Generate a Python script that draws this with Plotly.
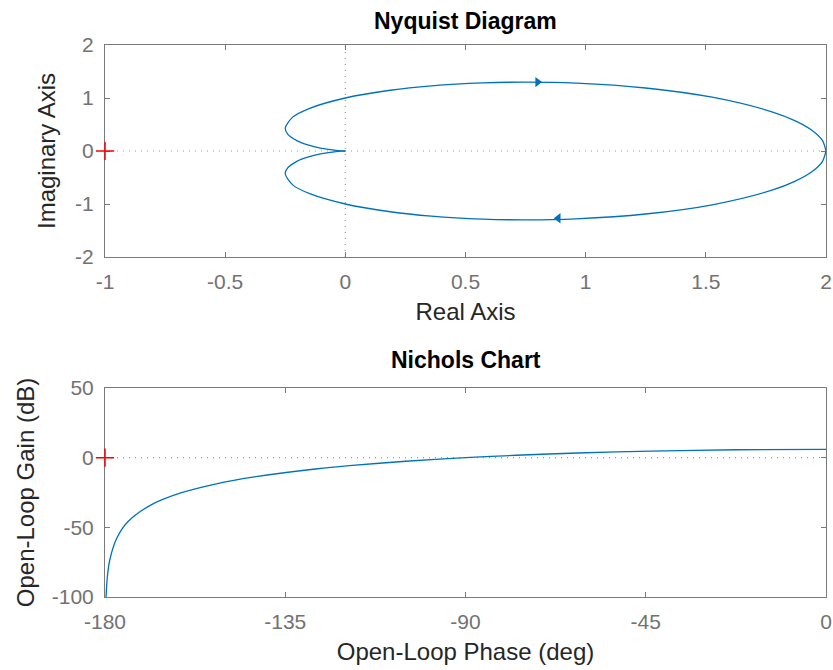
import plotly.graph_objects as go

# ---- Nyquist data ----
# lower branch: from (2,0) to origin
nyq_lower_re = [2.0, 1.985, 1.941, 1.870, 1.775, 1.532, 1.249, 0.96, 0.75, 0.571, 0.358, 0.187, 0.0,
                -0.148, -0.219, -0.25, -0.24, -0.20, -0.16, -0.104, -0.071, -0.038, -0.019, -0.002, 0.0]
nyq_lower_im = [0.0, -0.199, -0.392, -0.574, -0.740, -1.010, -1.189, -1.28, -1.299, -1.285, -1.229, -1.146, -1.0,
                -0.806, -0.639, -0.433, -0.32, -0.19, -0.12, -0.055, -0.030, -0.011, -0.004, -0.0005, 0.0]
# upper branch: from origin to (2,0)
nyq_upper_re = [0.0, -0.002, -0.019, -0.038, -0.071, -0.104, -0.16, -0.20, -0.24, -0.25, -0.219, -0.148,
                0.0, 0.187, 0.358, 0.571, 0.75, 0.96, 1.249, 1.532, 1.775, 1.870, 1.941, 1.985, 2.0]
nyq_upper_im = [0.0, 0.0005, 0.004, 0.011, 0.030, 0.055, 0.12, 0.19, 0.32, 0.433, 0.639, 0.806,
                1.0, 1.146, 1.229, 1.285, 1.299, 1.28, 1.189, 1.010, 0.740, 0.574, 0.392, 0.199, 0.0]
arrow_re = [0.80, 0.886]
arrow_im = [1.30, -1.27]
arrow_symbols = ["triangle-right", "triangle-left"]
critical_re, critical_im = [-1], [0]

# ---- Nichols data ----
nich_phase = [0.0, -22.6, -43.6, -61.9, -77.3, -90.0, -104.9, -119.0, -126.9, -143.1, -151.9,
              -161.1, -168.6, -174.3, -177.1, -178.85, -179.43, -179.74]
nich_gain = [6.02, 5.68, 4.73, 3.35, 1.72, 0.0, -2.57, -5.78, -7.96, -13.98, -18.59,
             -25.34, -34.07, -46.04, -58.07, -73.98, -86.0, -100.0]
nich_crit_phase, nich_crit_gain = [-180], [0]

nyq_xticks = [-1, -0.5, 0, 0.5, 1, 1.5, 2]
nyq_yticks = [-2, -1, 0, 1, 2]
nich_xticks = [-180, -135, -90, -45, 0]
nich_yticks = [-100, -50, 0, 50]

BLUE = "#0072BD"
AXC = "#7a7a7a"
FONT = "Liberation Sans, Arial, Helvetica, sans-serif"

fig = go.Figure()

fig.add_trace(go.Scatter(x=nyq_upper_re, y=nyq_upper_im, mode="lines",
                         line=dict(color=BLUE, width=1.3, shape="spline", smoothing=0.8),
                         xaxis="x", yaxis="y", hoverinfo="skip"))
fig.add_trace(go.Scatter(x=nyq_lower_re, y=nyq_lower_im, mode="lines",
                         line=dict(color=BLUE, width=1.3, shape="spline", smoothing=0.8),
                         xaxis="x", yaxis="y", hoverinfo="skip"))
fig.add_trace(go.Scatter(x=arrow_re, y=arrow_im, mode="markers",
                         marker=dict(symbol=arrow_symbols, size=9, color=BLUE),
                         xaxis="x", yaxis="y", hoverinfo="skip"))
fig.add_trace(go.Scatter(x=critical_re, y=critical_im, mode="markers",
                         marker=dict(symbol="cross-thin", size=13, line=dict(color="red", width=1.5)),
                         xaxis="x", yaxis="y", hoverinfo="skip", cliponaxis=False))

fig.add_trace(go.Scatter(x=nich_phase, y=nich_gain, mode="lines",
                         line=dict(color=BLUE, width=1.3, shape="spline", smoothing=0.8),
                         xaxis="x2", yaxis="y2", hoverinfo="skip"))
fig.add_trace(go.Scatter(x=nich_crit_phase, y=nich_crit_gain, mode="markers",
                         marker=dict(symbol="cross-thin", size=13, line=dict(color="red", width=1.5)),
                         xaxis="x2", yaxis="y2", hoverinfo="skip", cliponaxis=False))

W, H = 833, 670
PT, PB = 45, 597          # plot area top / bottom in px
PH = PB - PT
def fy(px):               # paper fraction inside plot area
    return (PB - px) / PH

axis_common = dict(showgrid=False, zeroline=False, showline=True, linecolor=AXC, linewidth=1,
                   mirror="ticks", ticks="inside", ticklen=5, tickcolor=AXC, automargin=False,
                   layer="below traces",
                   tickfont=dict(family=FONT, size=21, color="#727272"))
title_font = dict(family=FONT, size=24, color="#262626")

fig.update_layout(
    width=W, height=H,
    margin=dict(l=105, r=7, t=PT, b=H - PB, autoexpand=False),
    paper_bgcolor="white", plot_bgcolor="white",
    showlegend=False,
    xaxis=dict(range=[-1, 2], tickvals=nyq_xticks, ticktext=["-1", "-0.5", "0", "0.5", "1", "1.5", "2"],
               domain=[0, 1], anchor="y", ticklabelstandoff=6,
               title=dict(text="Real Axis", font=title_font, standoff=10), **axis_common),
    yaxis=dict(range=[-2, 2], tickvals=nyq_yticks, ticktext=["-2", "-1", "0", "1", "2"],
               domain=[fy(257), fy(45)], anchor="x", ticklabelstandoff=6,
               title=dict(text="Imaginary Axis", font=title_font, standoff=12), **axis_common),
    xaxis2=dict(range=[-180, 0], tickvals=nich_xticks, ticktext=["-180", "-135", "-90", "-45", "0"],
                domain=[0, 1], anchor="y2", ticklabelstandoff=6,
                title=dict(text="Open-Loop Phase (deg)", font=title_font, standoff=10), **axis_common),
    yaxis2=dict(range=[-100, 50], tickvals=nich_yticks, ticktext=["-100", "-50", "0", "50"],
                domain=[fy(597), fy(388)], anchor="x2", ticklabelstandoff=6,
                title=dict(text="Open-Loop Gain (dB)", font=title_font, standoff=10), **axis_common),
    shapes=[
        dict(type="line", xref="x", yref="y domain", x0=0, x1=0, y0=0, y1=1,
             line=dict(color="#999999", width=1.2, dash="1px,5px"), layer="below"),
        dict(type="line", xref="x domain", yref="y", x0=0, x1=1, y0=0, y1=0,
             line=dict(color="#999999", width=1.2, dash="1px,5px"), layer="below"),
        dict(type="line", xref="x2 domain", yref="y2", x0=0, x1=1, y0=0, y1=0,
             line=dict(color="#999999", width=1.2, dash="1px,5px"), layer="below"),
    ],
    annotations=[
        dict(text="<b>Nyquist Diagram</b>", xref="paper", yref="paper", x=0.5, y=fy(21),
             showarrow=False, font=dict(family=FONT, size=23, color="#000000"), yanchor="middle"),
        dict(text="<b>Nichols Chart</b>", xref="paper", yref="paper", x=0.5, y=fy(360),
             showarrow=False, font=dict(family=FONT, size=23, color="#000000"), yanchor="middle"),
    ],
)

fig.write_html("out.html", config={"displayModeBar": False},
               post_script="document.body.style.margin='0px';")
